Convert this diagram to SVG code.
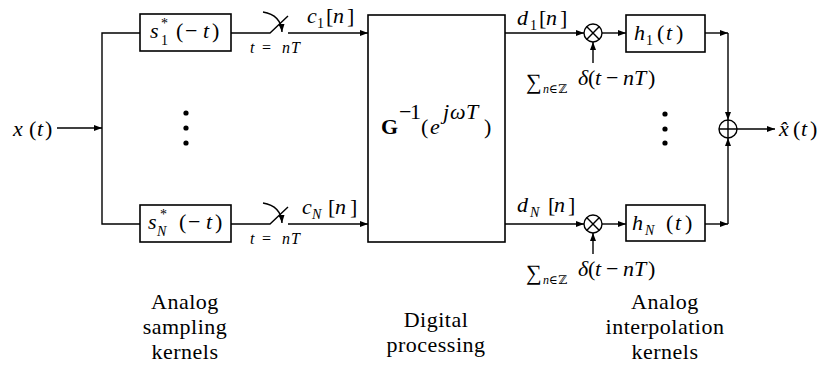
<svg xmlns="http://www.w3.org/2000/svg" width="822" height="386" viewBox="0 0 822 386" font-family="'Liberation Serif', 'Times New Roman', 'DejaVu Serif', serif">
<style>
text { font-family: 'Liberation Serif', 'Times New Roman', 'DejaVu Serif', serif; fill: #000; font-size: 22px; }
.i { font-style: italic; }
.s { font-size: 14px; }
.ss { font-size: 16px; }
.sm { font-size: 12px; }
.lbl { font-size: 22px; letter-spacing: 0.5px; text-anchor: middle; }
.box { fill: #fff; stroke: #000; stroke-width: 1.6; }
.ln { fill: none; stroke: #000; stroke-width: 1.4; }
.dot { fill: #000; }
</style>
<defs>
<marker id="ah" markerWidth="8" markerHeight="6" refX="8" refY="3" orient="auto" markerUnits="userSpaceOnUse">
<path d="M0,0 L8,3 L0,6 z" fill="#000"/>
</marker>
</defs>

<g id="connectors">
<path class="ln" d="M57,128 H102" marker-end="url(#ah)"/>
<path class="ln" d="M140,33 H102 V224 H140"/>
<path class="ln" d="M231,33 H270 L288,16"/>
<path class="ln" d="M263,12 Q281,15 282,32" marker-end="url(#ah)"/>
<path class="ln" d="M288,33 H368" marker-end="url(#ah)"/>
<path class="ln" d="M231,224 H270 L288,207"/>
<path class="ln" d="M263,203 Q281,206 282,223" marker-end="url(#ah)"/>
<path class="ln" d="M288,224 H368" marker-end="url(#ah)"/>
<path class="ln" d="M505,33 H584" marker-end="url(#ah)"/>
<path class="ln" d="M505,224 H584" marker-end="url(#ah)"/>
<path class="ln" d="M593,63 V42" marker-end="url(#ah)"/>
<path class="ln" d="M593,254 V233" marker-end="url(#ah)"/>
<path class="ln" d="M602,33 H626" marker-end="url(#ah)"/>
<path class="ln" d="M602,224 H626" marker-end="url(#ah)"/>
<path class="ln" d="M705,33 H728" marker-end="url(#ah)"/>
<path class="ln" d="M728,33 V120" marker-end="url(#ah)"/>
<path class="ln" d="M705,224 H728" marker-end="url(#ah)"/>
<path class="ln" d="M728,224 V138" marker-end="url(#ah)"/>
<path class="ln" d="M737,129 H775" marker-end="url(#ah)"/>
</g>

<g id="input">
<text y="136"><tspan class="i" x="13">x</tspan><tspan x="29">(</tspan><tspan class="i" x="37">t</tspan><tspan x="45">)</tspan></text>
</g>

<g id="s1">
<rect class="box" x="140" y="14" width="91" height="37"/>
<text y="38" class="i" x="150">s</text>
<text y="28" class="s" x="161">*</text>
<text y="45" class="s" x="161">1</text>
<text y="38"><tspan x="176">(</tspan><tspan x="185">−</tspan><tspan class="i" x="203">t</tspan><tspan x="212">)</tspan></text>
</g>

<g id="sN">
<rect class="box" x="140" y="205" width="91" height="37"/>
<text y="229" class="i" x="148">s</text>
<text y="219" class="s" x="160">*</text>
<text y="236" class="s i" x="157">N</text>
<text y="229"><tspan x="179">(</tspan><tspan x="188">−</tspan><tspan class="i" x="206">t</tspan><tspan x="215">)</tspan></text>
</g>

<g id="sampler1">
<text y="23"><tspan class="i" x="307">c</tspan></text>
<text y="28" class="s" x="317">1</text>
<text y="23"><tspan x="326">[</tspan><tspan class="i" x="333">n</tspan><tspan x="347">]</tspan></text>
<text y="53" class="ss"><tspan class="i" x="250">t</tspan><tspan x="262">=</tspan><tspan class="i" x="282">n</tspan><tspan class="i" x="291">T</tspan></text>
</g>

<g id="samplerN">
<text y="214"><tspan class="i" x="302">c</tspan></text>
<text y="219" class="s i" x="312">N</text>
<text y="214"><tspan x="328">[</tspan><tspan class="i" x="335">n</tspan><tspan x="350">]</tspan></text>
<text y="244" class="ss"><tspan class="i" x="250">t</tspan><tspan x="262">=</tspan><tspan class="i" x="282">n</tspan><tspan class="i" x="291">T</tspan></text>
</g>

<g id="G">
<rect class="box" x="368" y="15" width="137" height="227"/>
<text y="134" x="381" font-weight="bold" font-size="24">G</text>
<text y="119" font-size="17"><tspan x="399">−</tspan><tspan x="410">1</tspan></text>
<text y="134" font-size="23"><tspan x="421">(</tspan><tspan class="i" x="430">e</tspan></text>
<text y="119" font-size="17" class="i"><tspan x="443">j</tspan><tspan x="450">ω</tspan><tspan x="466">T</tspan></text>
<text y="134" x="484" font-size="23">)</text>
</g>

<g id="d1">
<text y="25"><tspan class="i" x="517">d</tspan></text>
<text y="30" class="s" x="530">1</text>
<text y="25"><tspan x="539">[</tspan><tspan class="i" x="546">n</tspan><tspan x="560">]</tspan></text>
</g>

<g id="dN">
<text y="212"><tspan class="i" x="517">d</tspan></text>
<text y="217" class="s i" x="530">N</text>
<text y="212"><tspan x="548">[</tspan><tspan class="i" x="554">n</tspan><tspan x="568">]</tspan></text>
</g>

<g id="mult1">
<circle class="ln" cx="593" cy="33" r="9"/>
<path class="ln" d="M586.6,26.6 L599.4,39.4 M599.4,26.6 L586.6,39.4"/>
<text y="89" x="526" font-size="25">∑</text>
<text y="93" class="sm" x="543"><tspan class="i">n</tspan>∈ℤ</text>
<text y="85" font-size="20"><tspan class="i" x="578">δ</tspan><tspan x="588">(</tspan><tspan class="i" x="595">t</tspan><tspan x="606">−</tspan><tspan class="i" x="623">n</tspan><tspan class="i" x="634">T</tspan><tspan x="648">)</tspan></text>
</g>

<g id="multN">
<circle class="ln" cx="593" cy="224" r="9"/>
<path class="ln" d="M586.6,217.6 L599.4,230.4 M599.4,217.6 L586.6,230.4"/>
<text y="280" x="526" font-size="25">∑</text>
<text y="284" class="sm" x="543"><tspan class="i">n</tspan>∈ℤ</text>
<text y="276" font-size="20"><tspan class="i" x="578">δ</tspan><tspan x="588">(</tspan><tspan class="i" x="595">t</tspan><tspan x="606">−</tspan><tspan class="i" x="623">n</tspan><tspan class="i" x="634">T</tspan><tspan x="648">)</tspan></text>
</g>

<g id="h1">
<rect class="box" x="626" y="15" width="79" height="37"/>
<text y="40" class="i" x="634">h</text>
<text y="45" class="s" x="646">1</text>
<text y="40"><tspan x="657">(</tspan><tspan class="i" x="666">t</tspan><tspan x="676">)</tspan></text>
</g>

<g id="hN">
<rect class="box" x="626" y="205" width="79" height="36"/>
<text y="230" class="i" x="632">h</text>
<text y="235" class="s i" x="645">N</text>
<text y="230"><tspan x="666">(</tspan><tspan class="i" x="675">t</tspan><tspan x="685">)</tspan></text>
</g>

<g id="adder">
<circle class="ln" cx="728" cy="129" r="9"/>
<path class="ln" d="M719,129 H737 M728,120 V138"/>
</g>

<g id="output">
<text y="136"><tspan class="i" x="779">x̂</tspan><tspan x="793">(</tspan><tspan class="i" x="801">t</tspan><tspan x="810">)</tspan></text>
</g>

<g id="dots">
<circle class="dot" cx="186" cy="113" r="2.6"/>
<circle class="dot" cx="186" cy="128" r="2.6"/>
<circle class="dot" cx="186" cy="143" r="2.6"/>
<circle class="dot" cx="665" cy="114" r="2.6"/>
<circle class="dot" cx="665" cy="129" r="2.6"/>
<circle class="dot" cx="665" cy="143" r="2.6"/>
</g>

<g id="labels">
<text class="lbl" x="185" y="309">Analog</text>
<text class="lbl" x="185" y="334">sampling</text>
<text class="lbl" x="185" y="359">kernels</text>
<text class="lbl" x="436" y="327">Digital</text>
<text class="lbl" x="436" y="352">processing</text>
<text class="lbl" x="665" y="309">Analog</text>
<text class="lbl" x="665" y="334">interpolation</text>
<text class="lbl" x="665" y="359">kernels</text>
</g>
</svg>
